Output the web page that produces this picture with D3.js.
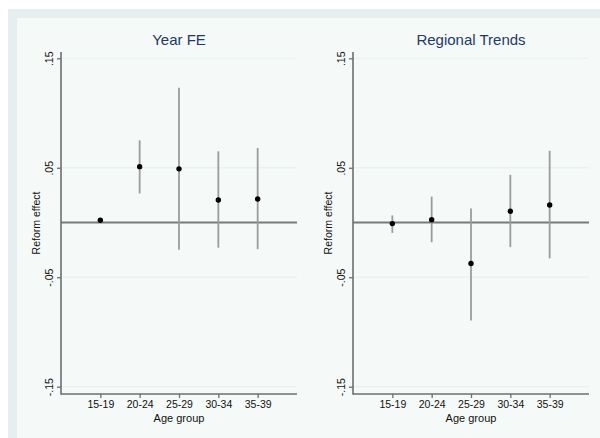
<!DOCTYPE html>
<html>
<head>
<meta charset="utf-8">
<script src="https://cdn.jsdelivr.net/npm/d3@7"></script>
<style>
  body { margin: 0; background: #fff; }
  text { font-family: "Liberation Sans", Arial, sans-serif; }
</style>
</head>
<body>
<svg id="chart" width="600" height="438"></svg>
<script>
// age groups on the x axis
const ageGroups = ["15-19", "20-24", "25-29", "30-34", "35-39"];

// Year FE panel: point estimate and CI bounds
const yearEst = [0.002, 0.051, 0.049, 0.0205, 0.0215];
const yearLo  = [0.0005, 0.0265, -0.025, -0.023, -0.0243];
const yearHi  = [0.0035, 0.075, 0.123, 0.065, 0.068];

// Regional Trends panel
const regEst = [-0.001, 0.0025, -0.0375, 0.0103, 0.016];
const regLo  = [-0.0095, -0.018, -0.0895, -0.0225, -0.0327];
const regHi  = [0.0065, 0.0237, 0.0128, 0.0435, 0.0655];

const yTicks = [0.15, 0.05, -0.05, -0.15];
const yTickLabels = [".15", ".05", "-.05", "-.15"];

const panels = [
    { title: "Year FE", est: yearEst, lo: yearLo, hi: yearHi, left: 61 },
    { title: "Regional Trends", est: regEst, lo: regLo, hi: regHi, left: 353 }
];

const plotW = 236;
const plotTop = 52, plotBottom = 394;

const svg = d3.select("#chart");

// background bands (stata style graph region / plot region)
svg.append("rect").attr("x", 8).attr("y", 9).attr("width", 592).attr("height", 429)
    .attr("fill", "#e7eeef");
svg.append("rect").attr("x", 17).attr("y", 18).attr("width", 583).attr("height", 420)
    .attr("fill", "#f5f9f8");

const y = d3.scaleLinear().domain([-0.15, 0.15]).range([386.7, 58.3]);

panels.forEach(p => {
    const x = d3.scaleLinear().domain([0, 6]).range([p.left, p.left + plotW]);
    const g = svg.append("g");

    // faint gridlines
    g.selectAll(".grid")
        .data(yTicks)
        .enter()
        .append("line")
        .attr("x1", p.left).attr("x2", p.left + plotW)
        .attr("y1", d => y(d)).attr("y2", d => y(d))
        .attr("stroke", "#e6eef5")
        .attr("stroke-width", 1);

    // zero reference line
    g.append("line")
        .attr("x1", p.left).attr("x2", p.left + plotW)
        .attr("y1", y(0)).attr("y2", y(0))
        .attr("stroke", "#7a7a7a")
        .attr("stroke-width", 2);

    // confidence intervals
    g.selectAll(".ci")
        .data(ageGroups)
        .enter()
        .append("line")
        .attr("x1", (d, i) => x(i + 1)).attr("x2", (d, i) => x(i + 1))
        .attr("y1", (d, i) => y(p.lo[i])).attr("y2", (d, i) => y(p.hi[i]))
        .attr("stroke", "#9c9c9c")
        .attr("stroke-width", 1.8);

    // point estimates
    g.selectAll(".pt")
        .data(ageGroups)
        .enter()
        .append("circle")
        .attr("cx", (d, i) => x(i + 1))
        .attr("cy", (d, i) => y(p.est[i]))
        .attr("r", 2.7)
        .attr("fill", "#000");

    // y axis
    const yAxis = d3.axisLeft(y)
        .tickValues(yTicks)
        .tickFormat((d, i) => yTickLabels[i])
        .tickSize(4)
        .tickPadding(4);
    const yg = g.append("g")
        .attr("transform", `translate(${p.left},0)`)
        .call(yAxis);
    yg.select(".domain").remove();
    yg.selectAll(".tick line").attr("stroke", "#6e6e6e").attr("stroke-width", 1.3);
    yg.selectAll(".tick text")
        .attr("font-size", "10.5px")
        .attr("fill", "#111")
        .attr("text-anchor", "middle")
        .attr("dy", 0)
        .attr("x", 0)
        .attr("transform", "translate(-8.5,0) rotate(-90)")
        .attr("y", 0);

    // x axis
    const xAxis = d3.axisBottom(x)
        .tickValues([1, 2, 3, 4, 5])
        .tickFormat((d, i) => ageGroups[i])
        .tickSize(4)
        .tickPadding(3);
    const xg = g.append("g")
        .attr("transform", `translate(0,${plotBottom})`)
        .call(xAxis);
    xg.select(".domain").remove();
    xg.selectAll(".tick line").attr("stroke", "#6e6e6e").attr("stroke-width", 1.3);
    xg.selectAll(".tick text")
        .attr("font-size", "10.5px")
        .attr("fill", "#111");

    // axis lines
    g.append("line")
        .attr("x1", p.left).attr("x2", p.left)
        .attr("y1", plotTop).attr("y2", plotBottom + 0.7)
        .attr("stroke", "#6e6e6e").attr("stroke-width", 1.6);
    g.append("line")
        .attr("x1", p.left).attr("x2", p.left + plotW)
        .attr("y1", plotBottom).attr("y2", plotBottom)
        .attr("stroke", "#6e6e6e").attr("stroke-width", 1.6);

    // titles
    g.append("text")
        .attr("x", p.left + plotW / 2)
        .attr("y", 45)
        .attr("text-anchor", "middle")
        .attr("font-size", "15px")
        .attr("fill", "#1e3a68")
        .text(p.title);

    g.append("text")
        .attr("x", p.left + plotW / 2)
        .attr("y", 422)
        .attr("text-anchor", "middle")
        .attr("font-size", "11px")
        .attr("fill", "#111")
        .text("Age group");

    g.append("text")
        .attr("transform", `translate(${p.left - 21},${(plotTop + plotBottom) / 2}) rotate(-90)`)
        .attr("text-anchor", "middle")
        .attr("font-size", "10.5px")
        .attr("fill", "#111")
        .text("Reform effect");
});
</script>
</body>
</html>
